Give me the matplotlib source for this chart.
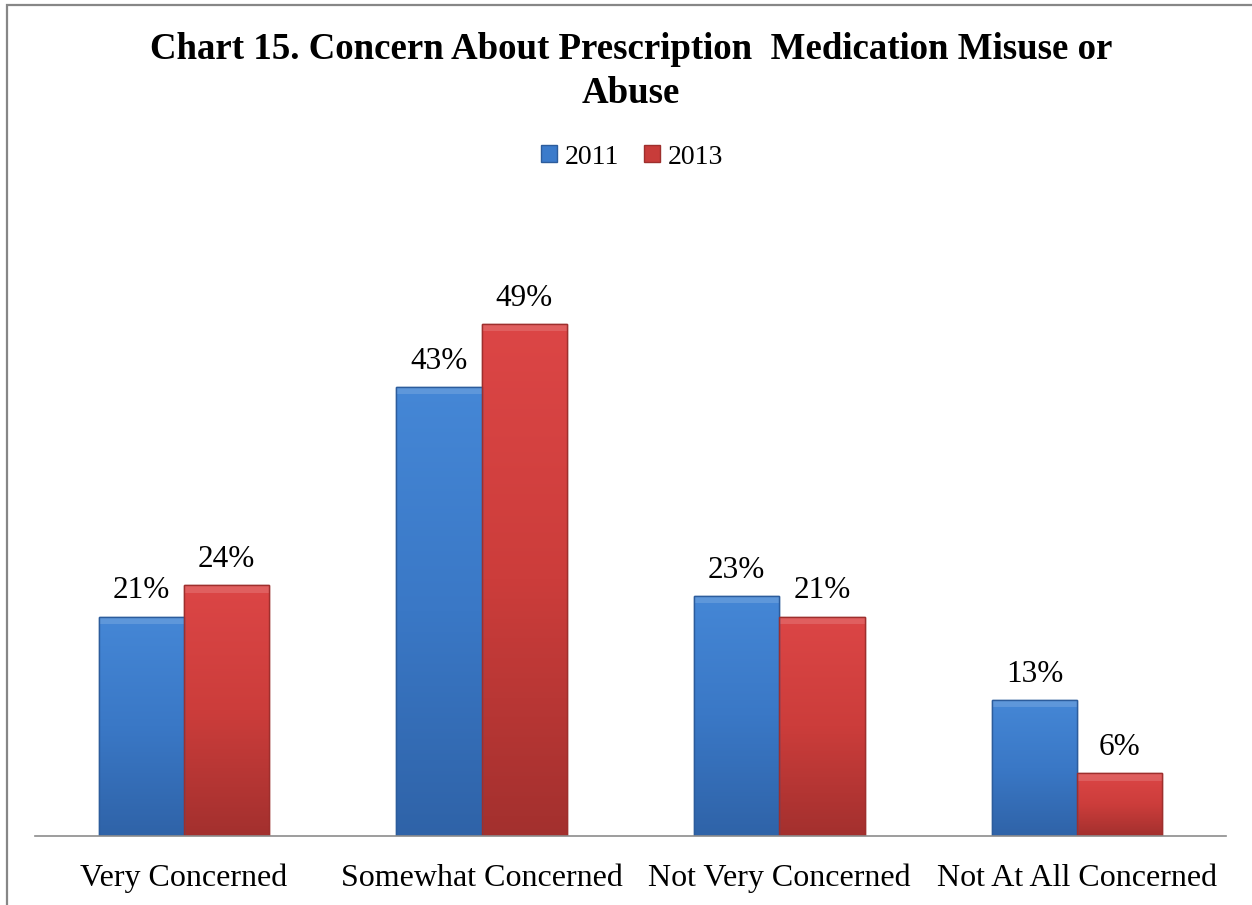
import numpy as np
import matplotlib
matplotlib.use("Agg")
import matplotlib.pyplot as plt
from matplotlib.colors import LinearSegmentedColormap
from matplotlib.patches import Rectangle, Patch

# Data
categories = ['Very Concerned', 'Somewhat Concerned', 'Not Very Concerned', 'Not At All Concerned']
years = ['2011', '2013']
values_2011 = [21, 43, 23, 13]
values_2013 = [24, 49, 21, 6]

plt.rcParams['font.family'] = ['Liberation Serif', 'DejaVu Serif']

fig = plt.figure(figsize=(12.52, 9.05), dpi=100)
ax = fig.add_axes([35 / 1252, 69 / 905, 1191 / 1252, 627 / 905])

# colours for the two series (light top -> dark bottom)
blue_map = LinearSegmentedColormap.from_list('b', ['#2f63a8', '#3a78c6', '#4587d6'])
red_map = LinearSegmentedColormap.from_list('r', ['#a3302e', '#cc3d3b', '#dc4646'])

x = np.arange(len(categories))
w = 0.286

bars_a = ax.bar(x - w / 2, values_2011, w, color='#3b7bcb', edgecolor='#2c5c9c', linewidth=1)
bars_b = ax.bar(x + w / 2, values_2013, w, color='#d24040', edgecolor='#9e2f2d', linewidth=1)

grad = np.linspace(0, 1, 256).reshape(-1, 1)
for bars, cmap in [(bars_a, blue_map), (bars_b, red_map)]:
    for b in bars:
        x0, h, bw = b.get_x(), b.get_height(), b.get_width()
        im = ax.imshow(grad, extent=[x0, x0 + bw, 0, h], origin='lower',
                       aspect='auto', cmap=cmap, zorder=b.get_zorder() + 0.1)
        im.set_clip_path(b)
        # lighter bevel strip on top of each bar
        ax.add_patch(Rectangle((x0, h - 0.7), bw, 0.7,
                               color='white', alpha=0.14, lw=0, zorder=b.get_zorder() + 0.2))
        ax.add_patch(Rectangle((x0, 0), bw, h, fill=False, edgecolor=b.get_edgecolor(),
                               lw=1, zorder=b.get_zorder() + 0.3))
        ax.annotate(f'{int(h)}%', (x0 + bw / 2, h), xytext=(0, 8),
                    textcoords='offset points', ha='center', va='bottom', fontsize=22.5)

ax.set_xlim(-0.5, len(categories) - 0.5)
ax.set_ylim(0, 60)
ax.set_xticks(x)
ax.set_xticklabels(categories, fontsize=23)
ax.tick_params(axis='x', length=0, pad=20)
ax.set_yticks([])
for s in ['top', 'left', 'right']:
    ax.spines[s].set_visible(False)
ax.spines['bottom'].set_color('#8c8c8c')
ax.spines['bottom'].set_linewidth(1.2)

fig.text(0.504, 1 - 32 / 905,
         'Chart 15. Concern About Prescription  Medication Misuse or\nAbuse',
         ha='center', va='top', fontsize=26.6, fontweight='bold', linespacing=1.32)

handles = [Patch(facecolor='#3b7bcb', edgecolor='#2c5c9c'),
           Patch(facecolor='#c83c3a', edgecolor='#9e2f2d')]
fig.legend(handles, years, loc='center', bbox_to_anchor=(0.505, 1 - 157 / 905),
           ncol=2, frameon=False, fontsize=20, handlelength=0.55, handleheight=0.55,
           handletextpad=0.3, columnspacing=0.9)

# outer chart frame (right/bottom edges fall outside the picture)
fig.add_artist(Rectangle((7 / 1252, -0.02), 1.1, 1 - 5 / 905 + 0.02,
                         transform=fig.transFigure, fill=False,
                         edgecolor='#878787', lw=1.6))

fig.savefig('out.png', dpi=100)
